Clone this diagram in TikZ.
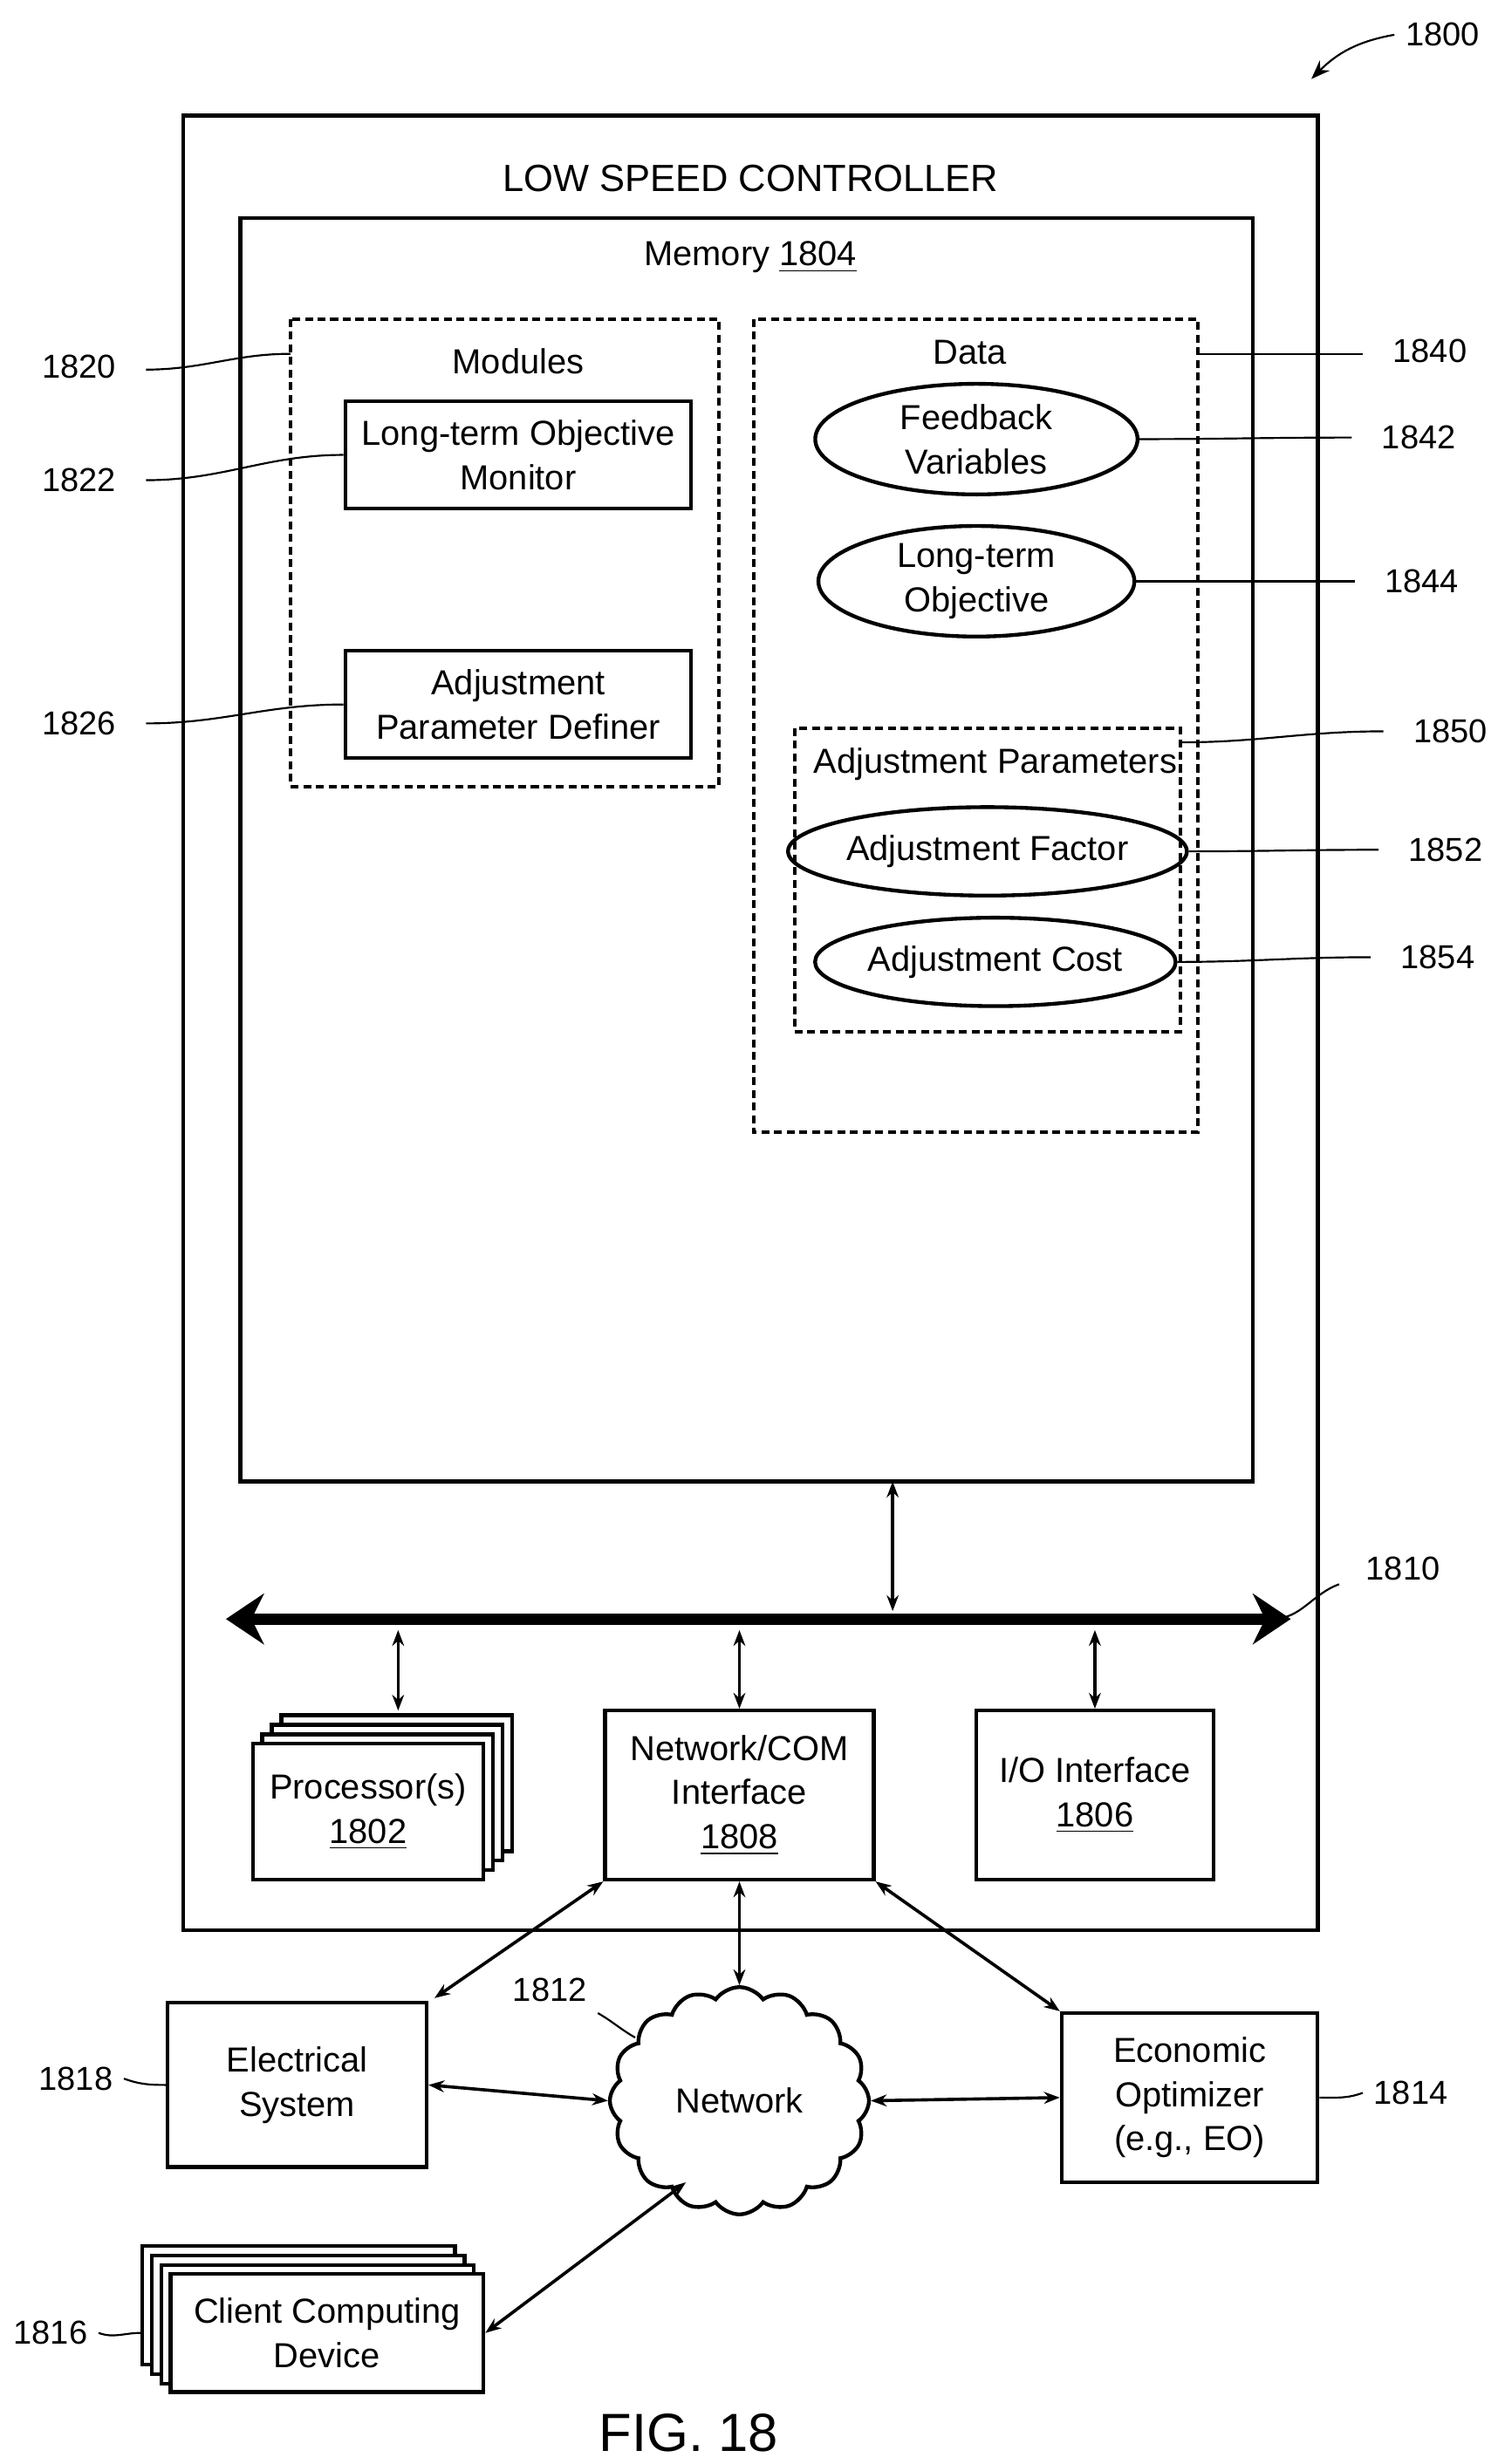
\documentclass[tikz,border=0pt]{standalone}
\usepackage{fontspec}
\setmainfont{Liberation Sans}
\usetikzlibrary{shapes.geometric, shapes.symbols, positioning, arrows.meta, calc}
\tikzset{
  box/.style = {draw, line width=1.2pt, align=center, inner sep=0pt},
  dbox/.style = {draw, line width=1.1pt, dash pattern=on 2.5pt off 1.5pt},
  oval/.style = {draw, ellipse, line width=1.2pt, align=center, inner sep=0pt},
  lbl/.style = {font=\fontsize{10.5}{12}\selectfont},
  lead/.style = {line width=0.6pt},
  dar/.style = {line width=1pt, {Stealth[length=5pt]}-{Stealth[length=5pt]}},
}
\begin{document}
\begin{tikzpicture}[x=0.5pt, y=-0.5pt, font=\fontsize{11}{14}\selectfont]
\useasboundingbox (0,0) rectangle (948,1560);
% controller and memory
\draw[line width=1.3pt] (116,73) rectangle (834,1222);
\node at (475,113) {\fontsize{12}{14}\selectfont LOW SPEED CONTROLLER};
\draw[line width=1.3pt] (152,138) rectangle (793,938);
\node at (475,163) {Memory \underline{1804}};
% modules
\draw[dbox] (184,202) rectangle (455,498);
\node at (328,229) {Modules};
\node[box, minimum width=109.5pt, minimum height=34pt] (ltom) at (328,288) {Long-term Objective\\Monitor};
\node[box, minimum width=109.5pt, minimum height=34pt] (apd) at (328,446) {Adjustment\\Parameter Definer};
% data
\draw[dbox] (477,202) rectangle (758,717);
\node at (614,223) {Data};
\node[oval, minimum width=102pt, minimum height=35pt] (fbv) at (618,278) {Feedback\\Variables};
\node[oval, minimum width=100pt, minimum height=35pt] (lto) at (618,368) {Long-term\\Objective};
\draw[dbox] (503,461) rectangle (747,653);
\node at (630,484) {Adjustment Parameters};
\node[oval, minimum width=100pt, minimum height=28pt] (adf) at (625,539) {Adjustment Factor};
\node[oval, minimum width=102pt, minimum height=28pt] (adc) at (630,609) {Adjustment Cost};
% reference labels
\node[lbl] (n1820) at (50,232) {1820};
\node[lbl] (n1822) at (50,304) {1822};
\node[lbl] (n1826) at (50,458) {1826};
\node[lbl] (n1840) at (905,222) {1840};
\node[lbl] (n1842) at (898,277) {1842};
\node[lbl] (n1844) at (900,368) {1844};
\node[lbl] (n1850) at (918,463) {1850};
\node[lbl] (n1852) at (915,538) {1852};
\node[lbl] (n1854) at (910,606) {1854};
\coordinate (c1820) at (184,224);
\coordinate (c1840) at (758,224);
\coordinate (c1850) at (747,470);
\draw[lead] (n1820.east) ++(12,2) to[out=0, in=180] (c1820);
\draw[lead] (n1822.east) ++(12,0) to[out=0, in=180] (ltom.west);
\draw[lead] (n1826.east) ++(12,0) to[out=0, in=180] (apd.west);
\draw[lead] (c1840) to[out=0, in=180] ($(n1840.west)+(-12,2)$);
\draw[lead] (fbv.east) to[out=0, in=180] ($(n1842.west)+(-12,0)$);
\draw[lead] (lto.east) to[out=0, in=180] ($(n1844.west)+(-12,0)$);
\draw[lead] (c1850) to[out=0, in=180] ($(n1850.west)+(-12,0)$);
\draw[lead] (adf.east) to[out=0, in=180] ($(n1852.west)+(-12,0)$);
\draw[lead] (adc.east) to[out=0, in=180] ($(n1854.west)+(-12,0)$);
% bus
\coordinate (busl) at (143,1025);
\coordinate (busr) at (817,1025);
\draw[line width=3.5pt, {Stealth[length=12pt,width=16pt]}-{Stealth[length=12pt,width=16pt]}] (busl) -- (busr);
\node[lbl] (n1810) at (888,993) {1810};
\draw[lead] (805,1025) to[out=0, in=200] ($(n1810.west)+(-10,10)$);
\draw[dar] (565,938) -- (565,1020);
% processors, interfaces
\foreach \k in {3,2,1} {
  \draw[line width=1.2pt, fill=white] (160+6*\k,1104-6*\k) rectangle (306+6*\k,1190-6*\k);
}
\node[box, fill=white, minimum width=73pt, minimum height=43pt] (proc) at (233,1147) {Processor(s)\\\underline{1802}};
\node[box, minimum width=85pt, minimum height=53.5pt] (ncom) at (468,1136.5) {Network/COM\\Interface\\\underline{1808}};
\node[box, minimum width=75pt, minimum height=53.5pt] (io) at (693,1136.5) {I/O Interface\\\underline{1806}};
\draw[dar] (252,1032) -- (252,1083);
\draw[dar] (468,1032) -- (ncom.north);
\draw[dar] (693,1032) -- (io.north);
% outside
\node[box, minimum width=82pt, minimum height=52pt] (elec) at (188,1320) {Electrical\\System};
\node[cloud, draw, line width=1.2pt, cloud puffs=16, cloud puff arc=110, minimum width=82pt, minimum height=52pt] (net) at (468,1330) {Network};
\node[box, minimum width=81pt, minimum height=53.5pt] (eo) at (753,1328) {Economic\\Optimizer\\(e.g., EO)};
\foreach \k in {3,2,1} {
  \draw[line width=1.2pt, fill=white] (108-6*\k,1440-6*\k) rectangle (306-6*\k,1515-6*\k);
}
\node[box, fill=white, minimum width=99pt, minimum height=37.5pt] (ccd) at (207,1477) {Client Computing\\Device};
\draw[dar] (ncom.south west) -- (275,1265);
\draw[dar] (ncom.south) -- (net.north);
\draw[dar] (ncom.south east) -- (eo.north west);
\draw[dar] (elec.east) -- (net.west);
\draw[dar] (net.east) -- (eo.west);
\draw[dar] (net.south west) ++(25,0) -- (ccd.east);
\node[lbl] (n1818) at (48,1316) {1818};
\node[lbl] (n1814) at (893,1325) {1814};
\node[lbl] (n1816) at (32,1477) {1816};
\node[lbl] (n1812) at (348,1260) {1812};
\draw[lead] (n1818.east) to[out=-20, in=180] (elec.west);
\draw[lead] (eo.east) to[out=0, in=200] (n1814.west);
\draw[lead] (n1816.east) to[out=-20, in=180] ($(ccd.west)+(-18,0)$);
\draw[lead] (n1812.south east) to[out=-30, in=150] (402,1290);
% figure number
\node[font=\fontsize{17}{20}\selectfont] (fig) at (436,1540) {FIG. 18};
\node[lbl] (n1800) at (913,22) {1800};
\draw[lead, -{Stealth[length=6pt]}] (n1800.west) to[out=190, in=45] (830,50);
\end{tikzpicture}
\end{document}
